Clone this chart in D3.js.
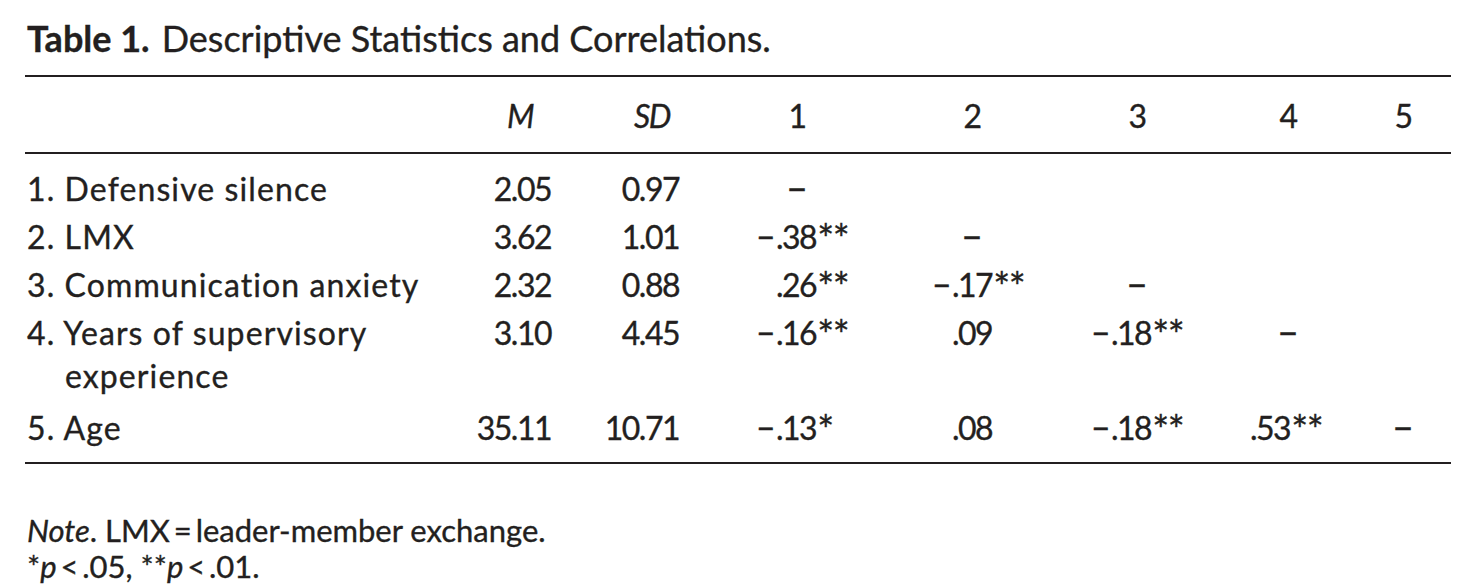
<!DOCTYPE html>
<html>
<head>
<meta charset="utf-8">
<script src="https://cdn.jsdelivr.net/npm/d3@7"></script>
<style>
  html, body { margin: 0; padding: 0; background: #fff; }
  svg text { font-family: Lato, "Open Sans", sans-serif; fill: #231f20; stroke: #231f20; stroke-width: 0.35px; }
  svg text.num { letter-spacing: -1.5px; }
  svg text.label { letter-spacing: 1.1px; }
</style>
</head>
<body>
<div id="vis-display"></div>
<script>
// Table 1: descriptive statistics and correlation matrix, drawn as an SVG table.

const TITLE_BOLD = "Table 1.";
const TITLE_TEXT = "Descriptive Statistics and Correlations.";

const variables = ["1. Defensive silence", "2. LMX", "3. Communication anxiety",
                   ["4. Years of supervisory", "experience"], "5. Age"];
const means = ["2.05", "3.62", "2.32", "3.10", "35.11"];
const sds   = ["0.97", "1.01", "0.88", "4.45", "10.71"];
const corrHeaders = ["1", "2", "3", "4", "5"];

// lower-triangle correlations, row by row ("–" = diagonal)
const corrRows = [
  ["–"],
  ["−.38**", "–"],
  [".26**", "−.17**", "–"],
  ["−.16**", ".09", "−.18**", "–"],
  ["−.13*", ".08", "−.18**", ".53**", "–"],
];

const W = 1477, H = 588;
const FS = 32;

const svg = d3.select("#vis-display").append("svg")
  .attr("width", W).attr("height", H);

// ── Column positions ─────────────────────────────────────────────────────────
const colX = d3.scaleOrdinal()
  .domain(["label", "M", "SD", ...corrHeaders])
  .range([27, 520, 652, 797, 972, 1137, 1288, 1403]);
// decimal-point anchor for the correlation columns
const dotX = d3.scaleOrdinal().domain(corrHeaders).range([776, 952, 1111, 1250, 1403]);
const numRight = { M: 551, SD: 679 };

// ── Row positions (in line units) ────────────────────────────────────────────
const lineY = d3.scaleLinear().domain([0, 1]).range([201, 249]);
const rowLine = [0, 1, 2, 3, 4.98];

// Rules
const ruleX = d3.scaleLinear().domain([0, 1]).range([25, 1451]);
[76, 153, 463].forEach(y => {
  svg.append("line")
    .attr("x1", ruleX(0)).attr("x2", ruleX(1))
    .attr("y1", y).attr("y2", y)
    .attr("stroke", "#231f20").attr("stroke-width", 2);
});

// Title
const title = svg.append("text").attr("x", 27).attr("y", 52).style("font-size", "36px");
title.append("tspan").style("font-weight", "bold").text(TITLE_BOLD);
title.append("tspan").attr("dx", 12).text(TITLE_TEXT);

// Header
svg.append("g").selectAll("text")
  .data(["M", "SD", ...corrHeaders])
  .join("text")
    .attr("class", "num")
    .attr("x", d => colX(d))
    .attr("y", 128)
    .attr("text-anchor", "middle")
    .style("font-size", FS + "px")
    .style("font-style", d => (d === "M" || d === "SD") ? "italic" : "normal")
    .text(d => d);

// Row labels
variables.forEach((v, i) => {
  const lines = Array.isArray(v) ? v : [v];
  lines.forEach((t, j) => {
    svg.append("text")
      .attr("class", "label")
      .attr("x", colX("label") + (j > 0 ? 38 : 0))
      .attr("y", lineY(rowLine[i]) + j * 43)
      .style("font-size", FS + "px")
      .text(t);
  });
});

// Means and SDs, right aligned
[["M", means], ["SD", sds]].forEach(([key, vals]) => {
  svg.append("g").selectAll("text")
    .data(vals)
    .join("text")
      .attr("class", "num")
      .attr("x", numRight[key])
      .attr("y", (d, i) => lineY(rowLine[i]))
      .attr("text-anchor", "end")
      .style("font-size", FS + "px")
      .text(d => d);
});

// Correlations, aligned on the decimal point
corrRows.forEach((row, i) => {
  row.forEach((val, j) => {
    const key = corrHeaders[j];
    const y = lineY(rowLine[i]);
    if (val === "–") {
      svg.append("text")
        .attr("x", colX(key)).attr("y", y)
        .attr("text-anchor", "middle")
        .style("font-size", (FS + 6) + "px")
        .text(val);
      return;
    }
    const neg = val.startsWith("−");
    const body = neg ? val.slice(1) : val;
    const digits = body.replace(/\*+$/, "");
    const stars = body.slice(digits.length);
    if (neg) {
      svg.append("text")
        .attr("x", dotX(key) - 1).attr("y", y)
        .attr("text-anchor", "end")
        .style("font-size", FS + "px")
        .text("−");
    }
    const t = svg.append("text")
      .attr("class", "num")
      .attr("x", dotX(key)).attr("y", y)
      .style("font-size", FS + "px");
    t.append("tspan").text(digits);
    if (stars) {
      t.append("tspan")
        .attr("dx", 1).attr("dy", 5)
        .style("font-size", "40px")
        .text(stars);
    }
  });
});

// Note
const note = svg.append("text").attr("x", 27).attr("y", 542).style("font-size", "31px");
note.append("tspan").style("font-style", "italic").text("Note");
note.append("tspan").text(". LMX\u2009=\u2009leader-member exchange.");

const sig = svg.append("text").attr("x", 27).attr("y", 578).style("font-size", "31px");
sig.append("tspan").text("*");
sig.append("tspan").style("font-style", "italic").text("p");
sig.append("tspan").text("\u2009<\u2009.05, **");
sig.append("tspan").style("font-style", "italic").text("p");
sig.append("tspan").text("\u2009<\u2009.01.");
</script>
</body>
</html>
